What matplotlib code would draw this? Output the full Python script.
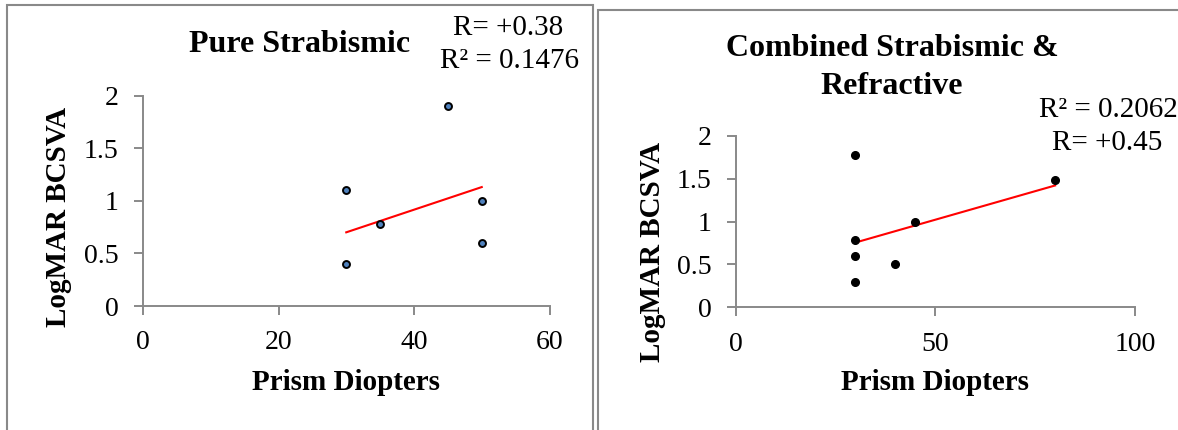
import matplotlib
matplotlib.use("Agg")
import matplotlib.pyplot as plt
from matplotlib.patches import Rectangle

# Pure strabismic group
pure_pd = [30, 30, 35, 45, 50, 50]
pure_va = [1.10, 0.40, 0.78, 1.90, 1.00, 0.60]
pure_trend_x = [30, 50]
pure_trend_y = [0.70, 1.13]
pure_r = "R= +0.38"
pure_r2 = "R\u00b2 = 0.1476"

# Combined strabismic & refractive group
comb_pd = [30, 30, 30, 30, 40, 45, 80]
comb_va = [1.78, 0.78, 0.60, 0.30, 0.50, 1.00, 1.48]
comb_trend_x = [30, 80]
comb_trend_y = [0.755, 1.42]
comb_r = "R= +0.45"
comb_r2 = "R\u00b2 = 0.2062"

pure_xticks = [0, 20, 40, 60]
comb_xticks = [0, 50, 100]
yticks = [0, 0.5, 1, 1.5, 2]

W, H = 1178, 430
plt.rcParams["font.family"] = ["Liberation Serif", "DejaVu Serif"]
GREY = "#898989"

fig = plt.figure(figsize=(W / 100, H / 100), dpi=100)


def px(x, y):
    """pixel position (from top-left) -> figure fraction"""
    return x / W, 1 - y / H


def style_axes(ax, xticks, xmax):
    ax.set_xlim(0, xmax)
    ax.set_ylim(0, 2)
    ax.set_xticks(xticks)
    ax.set_yticks(yticks)
    ax.set_yticklabels(["0", "0.5", "1", "1.5", "2"])
    for s in ("top", "right"):
        ax.spines[s].set_visible(False)
    for s in ("left", "bottom"):
        ax.spines[s].set_color(GREY)
        ax.spines[s].set_linewidth(1.4)
    ax.tick_params(axis="both", direction="out", length=6.5, width=1.4,
                   color=GREY, labelsize=20, labelcolor="black")
    ax.tick_params(axis="y", pad=11)
    ax.tick_params(axis="x", pad=11)
    ax.patch.set_alpha(0)


# panel frames
fig.patches.append(Rectangle(px(6.5, 450), (593 - 6.5) / W, 445.5 / H,
                             transform=fig.transFigure, fill=False,
                             edgecolor=GREY, linewidth=1.5))
fig.patches.append(Rectangle(px(598, 450), 600 / W, 440 / H,
                             transform=fig.transFigure, fill=False,
                             edgecolor=GREY, linewidth=1.5))

# left panel
ax1 = fig.add_axes([143 / W, 1 - 306 / H, (549.5 - 143) / W, (306 - 95.5) / H])
style_axes(ax1, pure_xticks, 60)
ax1.plot(pure_trend_x, pure_trend_y, color="#ff0000", linewidth=1.5, zorder=2)
ax1.plot(pure_pd, pure_va, linestyle="none", marker="o", markersize=5,
         markerfacecolor="#4f81bd", markeredgecolor="black",
         markeredgewidth=1.4, clip_on=False, zorder=3)

fig.text(*px(300, 44), "Pure Strabismic", ha="center", va="center",
         fontsize=23, fontweight="bold")
fig.text(*px(508, 28), pure_r, ha="center", va="center", fontsize=21)
fig.text(*px(509, 61), pure_r2, ha="center", va="center", fontsize=21)
fig.text(*px(59, 217), "LogMAR BCSVA", ha="center", va="center",
         rotation=90, fontsize=21, fontweight="bold")
fig.text(*px(346, 382), "Prism Diopters", ha="center", va="center",
         fontsize=21, fontweight="bold")

# right panel
ax2 = fig.add_axes([735.7 / W, 1 - 307.3 / H, (1135 - 735.7) / W, (307.3 - 135.7) / H])
style_axes(ax2, comb_xticks, 100)
ax2.plot(comb_trend_x, comb_trend_y, color="#ff0000", linewidth=1.5, zorder=2)
ax2.plot(comb_pd, comb_va, linestyle="none", marker="o", markersize=5.5,
         markerfacecolor="black", markeredgecolor="black",
         clip_on=False, zorder=3)

fig.text(*px(892, 48), "Combined Strabismic &", ha="center", va="center",
         fontsize=23, fontweight="bold")
fig.text(*px(892, 86), "Refractive", ha="center", va="center",
         fontsize=23, fontweight="bold")
fig.text(*px(1108, 110), comb_r2, ha="center", va="center", fontsize=21)
fig.text(*px(1107, 143), comb_r, ha="center", va="center", fontsize=21)
fig.text(*px(652, 252), "LogMAR BCSVA", ha="center", va="center",
         rotation=90, fontsize=21, fontweight="bold")
fig.text(*px(935, 383), "Prism Diopters", ha="center", va="center",
         fontsize=21, fontweight="bold")

fig.savefig("out.png", dpi=100, facecolor="white")
